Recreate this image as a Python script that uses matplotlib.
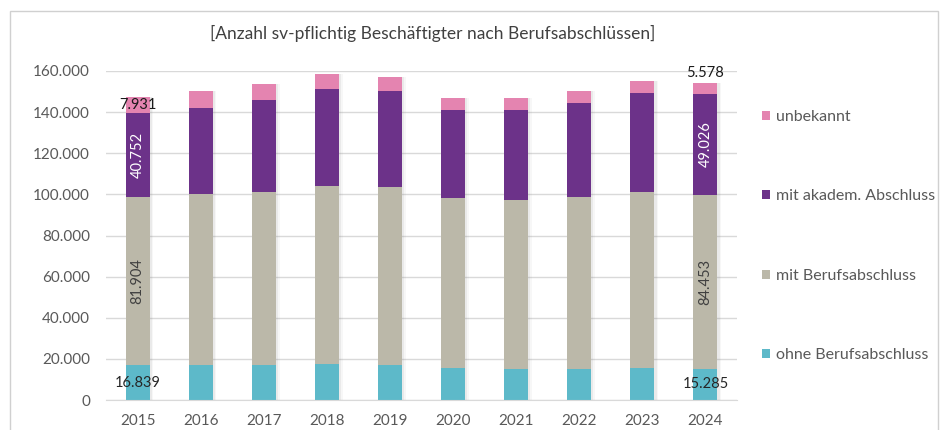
import matplotlib
matplotlib.use("Agg")
import matplotlib.pyplot as plt
from matplotlib.patches import Rectangle
from matplotlib.ticker import FuncFormatter
import numpy as np

plt.rcParams['font.family'] = ['Lato', 'DejaVu Sans']

years = ["2015", "2016", "2017", "2018", "2019", "2020", "2021", "2022", "2023", "2024"]
ohne = [16839, 16900, 16900, 17300, 16800, 15400, 14900, 15000, 15400, 15285]
beruf = [81904, 83100, 84400, 86600, 86700, 82800, 82500, 83700, 85900, 84453]
akadem = [40752, 42100, 44700, 47400, 46600, 42600, 43400, 45800, 47900, 49026]
unbek = [7931, 8100, 7700, 7300, 6900, 6100, 6100, 5700, 5800, 5578]

series_names = ["ohne Berufsabschluss", "mit Berufsabschluss", "mit akadem. Abschluss", "unbekannt"]
colors = ["#5DB9C9", "#BBB8A9", "#6C3289", "#E484B0"]
title = "[Anzahl sv-pflichtig Beschäftigter nach Berufsabschlüssen]"

fig = plt.figure(figsize=(9.4, 4.3), dpi=100)
ax = fig.add_axes([106/940, 30/430, (737-106)/940, (400-71)/430])

x = np.arange(len(years))
width = 0.38
data = [np.array(ohne), np.array(beruf), np.array(akadem), np.array(unbek)]
totals = sum(data)

# soft shadow
for off, a in [(0.035, 0.10), (0.06, 0.06)]:
    ax.bar(x + off, totals, width, color="#7F7F7F", alpha=a, zorder=1, linewidth=0)

bottom = np.zeros(len(years))
bars = []
for vals, c, n in zip(data, colors, series_names):
    b = ax.bar(x, vals, width, bottom=bottom, color=c, label=n, zorder=2, linewidth=0)
    bars.append(b)
    bottom = bottom + vals

def fmt(v):
    return f"{int(round(v)):,}".replace(",", ".")

for i in [0, len(years) - 1]:
    ax.text(x[i], ohne[i] / 2, fmt(ohne[i]), ha="center", va="center", fontsize=10.5, color="#262626", zorder=5)
    ax.text(x[i], ohne[i] + beruf[i] / 2, fmt(beruf[i]), ha="center", va="center", rotation=90,
            fontsize=10.5, color="#404040", zorder=5)
    ax.text(x[i], ohne[i] + beruf[i] + akadem[i] / 2, fmt(akadem[i]), ha="center", va="center", rotation=90,
            fontsize=10.5, color="white", zorder=5)
top_first = ohne[0] + beruf[0] + akadem[0] + unbek[0] / 2
ax.text(x[0], top_first, fmt(unbek[0]), ha="center", va="center", fontsize=10.5, color="#1a1a1a", zorder=5)
top_last = totals[-1] + 1500
ax.text(x[-1], top_last, fmt(unbek[-1]), ha="center", va="bottom", fontsize=10.5, color="#1a1a1a", zorder=5)

ax.set_ylim(0, 160000)
ax.set_xlim(-0.5, len(years) - 0.5)
ax.set_yticks(np.arange(0, 160001, 20000))
ax.yaxis.set_major_formatter(FuncFormatter(lambda v, p: fmt(v)))
ax.set_xticks(x)
ax.set_xticklabels(years)
ax.tick_params(axis="both", length=0, labelsize=11, labelcolor="#595959")
ax.tick_params(axis="y", pad=11.5)
ax.tick_params(axis="x", pad=10)
ax.grid(axis="y", color="#D9D9D9", linewidth=1, zorder=0)
ax.set_axisbelow(True)
for s in ["top", "right", "left"]:
    ax.spines[s].set_visible(False)
ax.spines["bottom"].set_color("#D9D9D9")

fig.text(433/940, 1 - 33/430, title, ha="center", va="center", fontsize=12.5, color="#404040")

handles = [b for b in bars][::-1]
labels = series_names[::-1]
leg = fig.legend(handles, labels, loc="center left", bbox_to_anchor=(756/940, 1 - 236/430),
                 frameon=False, fontsize=11.5, labelcolor="#595959", handlelength=0.5,
                 handleheight=0.5, handletextpad=0.35, labelspacing=4.1, borderaxespad=0)

fig.patches.append(Rectangle((10/940, -0.05), 928/940, 1.05 - 11/430, transform=fig.transFigure,
                             fill=False, edgecolor="#D0D0D0", linewidth=1))

fig.savefig("out.png", dpi=100, facecolor="white")
